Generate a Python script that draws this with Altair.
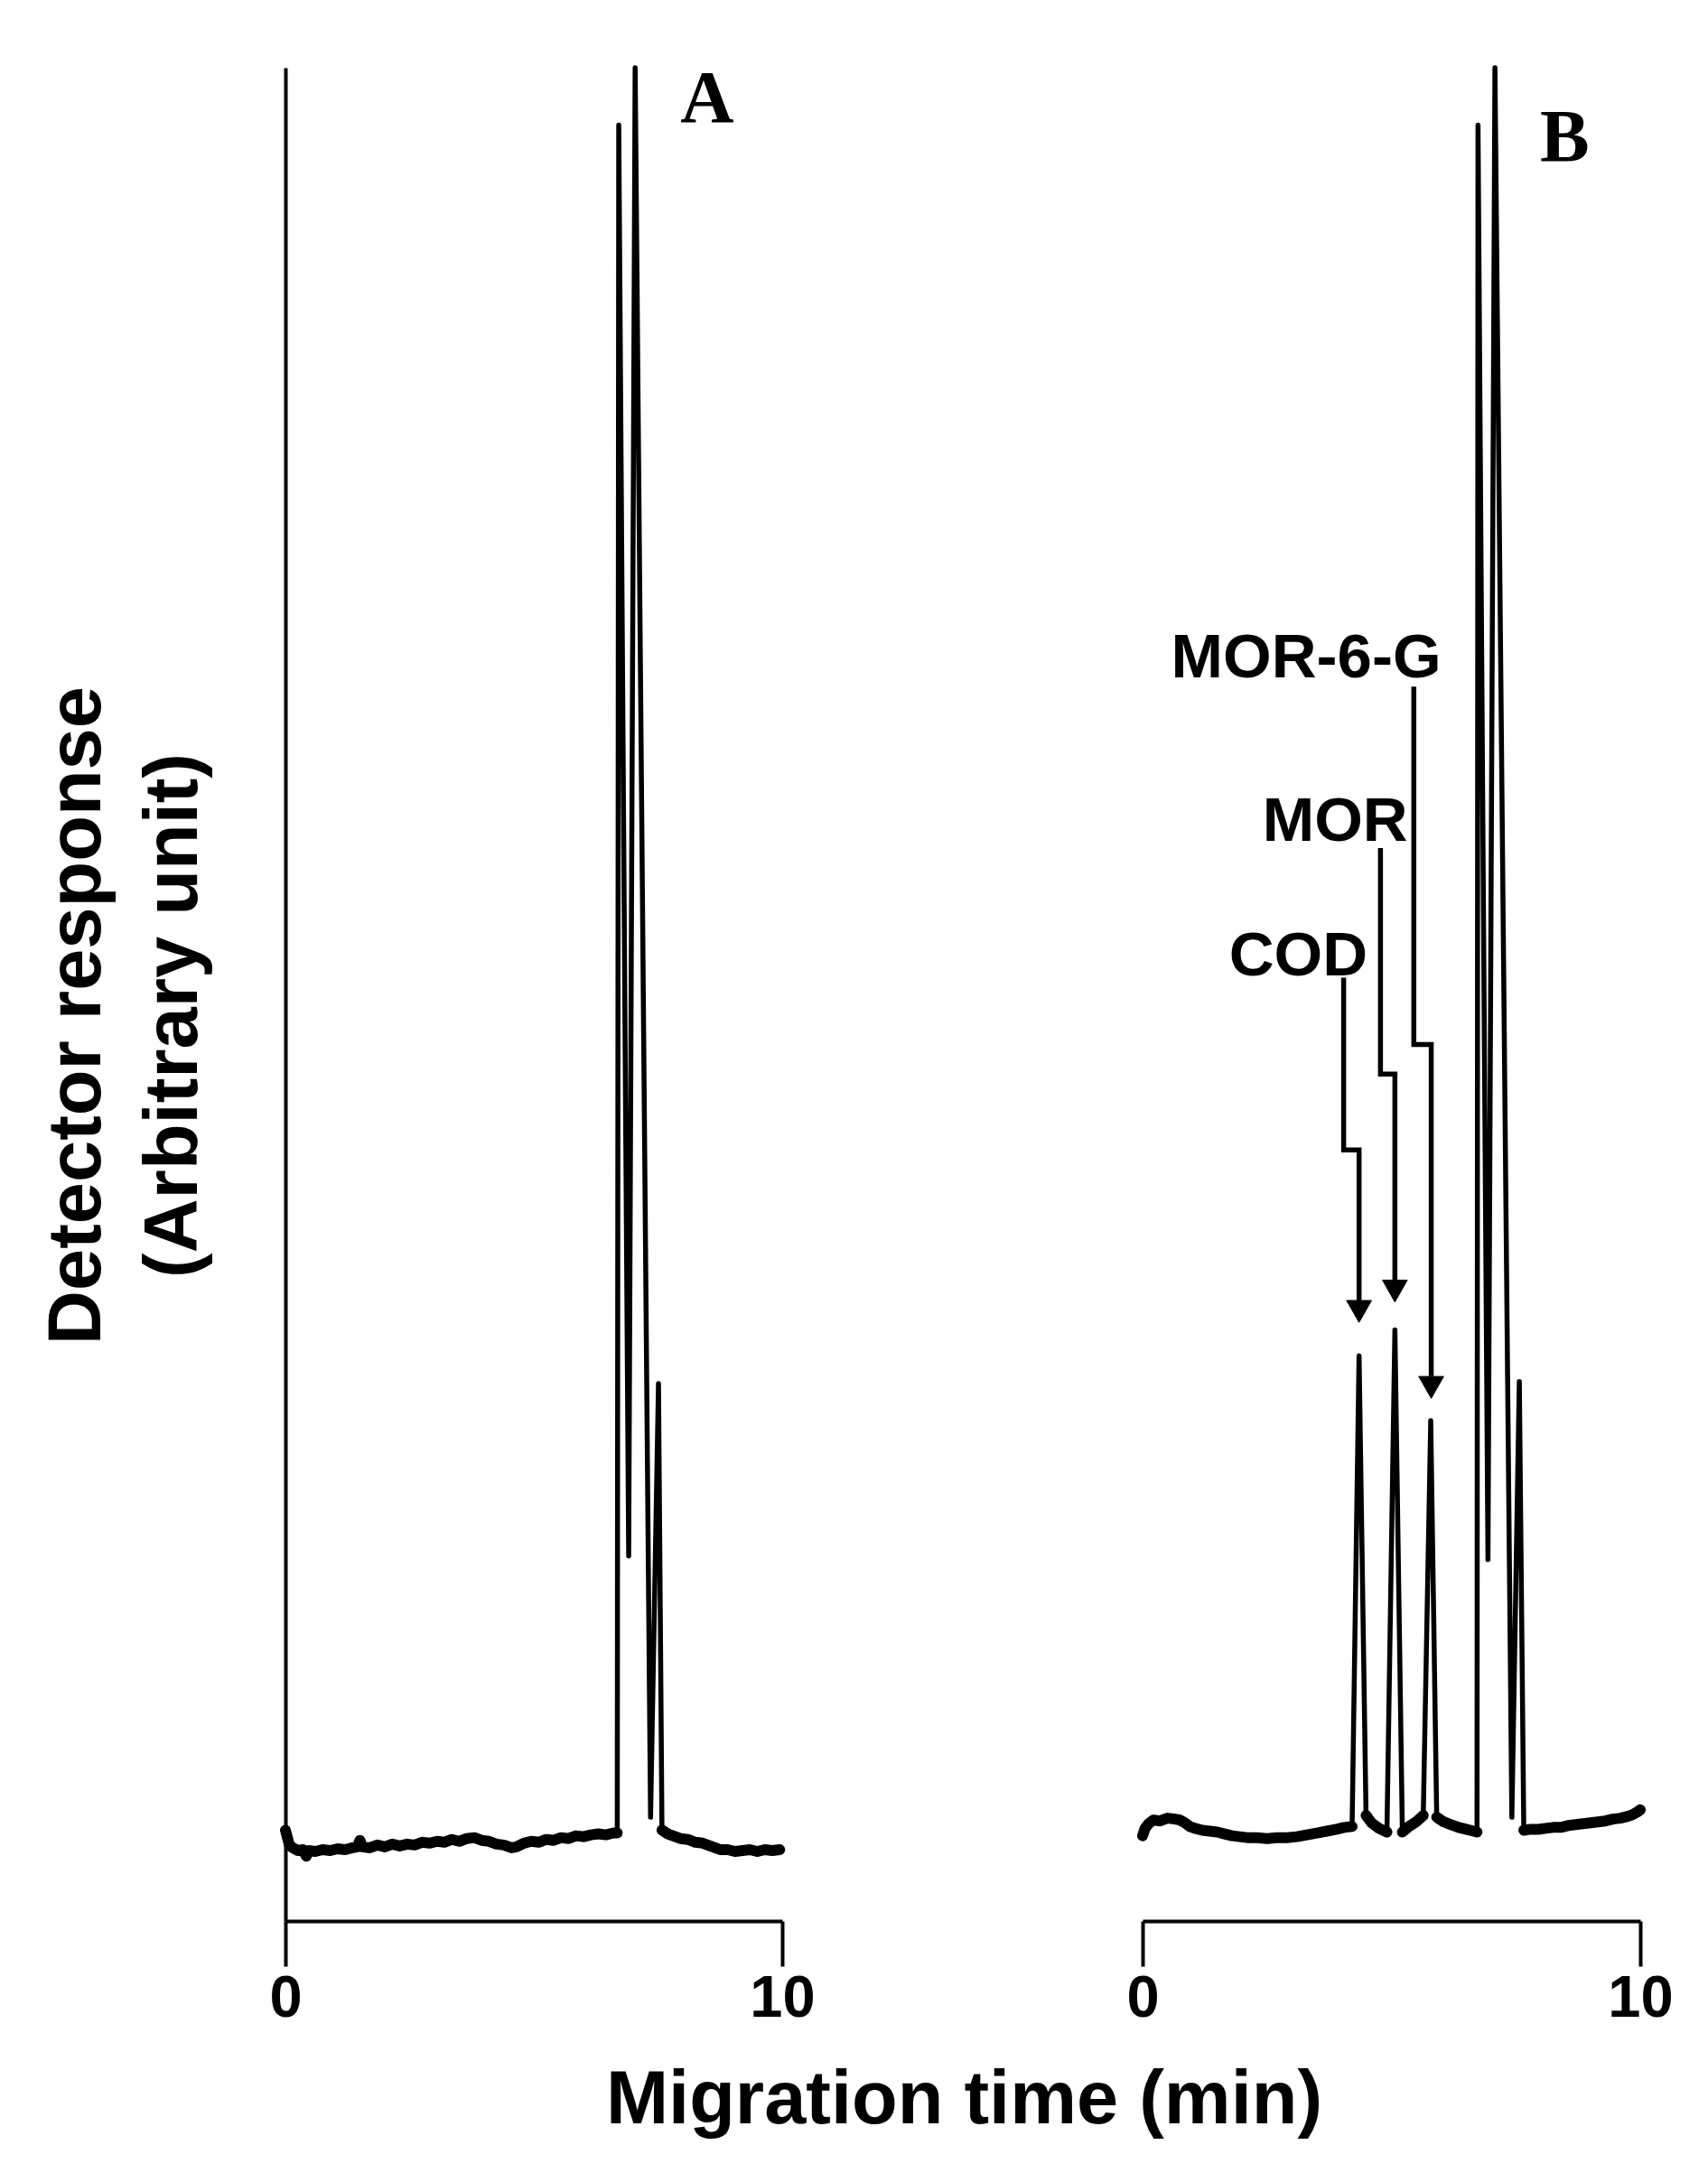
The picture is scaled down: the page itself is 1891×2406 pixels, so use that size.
import altair as alt
import pandas as pd

# ---------------- Panel A trace (time in min, detector response in arbitrary units) -------------
a_time = [0.00, 0.03, 0.08, 0.15, 0.25, 0.35, 0.42, 0.47, 0.60, 0.75, 0.90, 1.05, 1.20, 1.35,
          1.45, 1.50, 1.55, 1.70, 1.85, 2.00, 2.15, 2.30, 2.45, 2.60, 2.75, 2.90, 3.05, 3.20,
          3.35, 3.50, 3.65, 3.80, 3.95, 4.10, 4.25, 4.40, 4.55, 4.65, 4.80, 4.95, 5.10, 5.25,
          5.40, 5.55, 5.70, 5.85, 6.00, 6.15, 6.30, 6.45, 6.60, 6.68,
          6.71, 6.91, 7.04, 7.35, 7.51,
          7.58, 7.70, 7.80, 7.95, 8.10, 8.25, 8.40, 8.55, 8.65, 8.75, 8.90, 9.05, 9.20, 9.35,
          9.50, 9.65, 9.80, 9.95]
a_signal = [4.9, 4.6, 4.1, 3.95, 3.8, 3.85, 3.5, 3.8, 3.75, 3.85, 3.8, 3.9, 3.85, 3.95,
            4.0, 4.35, 4.0, 3.95, 4.1, 4.0, 4.15, 4.05, 4.15, 4.1, 4.25, 4.2, 4.3, 4.25,
            4.4, 4.3, 4.45, 4.5, 4.35, 4.3, 4.15, 4.1, 3.95, 4.0, 4.2, 4.3, 4.25, 4.4,
            4.35, 4.5, 4.45, 4.6, 4.55, 4.65, 4.7, 4.65, 4.75, 4.75,
            96.9, 19.7, 100.0, 5.6, 29.0,
            4.9, 4.7, 4.6, 4.45, 4.4, 4.25, 4.2, 4.05, 3.95, 3.85, 3.85, 3.75, 3.8, 3.85,
            3.75, 3.85, 3.8, 3.85]
a_kind = (["b"] * 52) + (["p"] * 5) + (["b"] * 18)

# ---------------- Panel B trace -------------
b_time = [0.00, 0.05, 0.12, 0.22, 0.35, 0.50, 0.65, 0.75, 0.85, 0.95, 1.05, 1.20, 1.35, 1.50,
          1.65, 1.80, 1.95, 2.10, 2.30, 2.50, 2.70, 2.90, 3.10, 3.30, 3.50, 3.70, 3.90, 4.05,
          4.21,
          4.35,
          4.49, 4.60, 4.75, 4.91,
          5.07,
          5.22, 5.35, 5.50, 5.64,
          5.79,
          5.91, 6.05, 6.20, 6.35, 6.50, 6.65, 6.72,
          6.74, 6.94, 7.08, 7.42, 7.57,
          7.66, 7.80, 7.95, 8.10, 8.25, 8.40, 8.55, 8.70, 8.85, 9.00, 9.15, 9.30, 9.45, 9.60,
          9.75, 9.85, 9.95, 10.0]
b_signal = [4.6, 5.0, 5.25, 5.45, 5.4, 5.55, 5.5, 5.45, 5.3, 5.1, 5.0, 4.9, 4.85, 4.8,
            4.7, 4.6, 4.55, 4.5, 4.5, 4.45, 4.5, 4.5, 4.55, 4.65, 4.75, 4.85, 4.95, 5.05,
            5.1,
            30.5,
            5.7, 5.3, 5.0, 4.8,
            31.9,
            4.8, 5.1, 5.35, 5.7,
            27.0,
            5.6, 5.35, 5.2, 5.05, 4.95, 4.85, 4.8,
            96.9, 19.5, 100.0, 5.6, 29.1,
            4.9, 4.95, 4.95, 5.0, 5.05, 5.05, 5.15, 5.2, 5.25, 5.3, 5.35, 5.4, 5.5, 5.55,
            5.65, 5.75, 5.9, 6.0]
b_kind = (["b"] * 29) + ["p"] + (["b"] * 4) + ["p"] + (["b"] * 4) + ["p"] + (["b"] * 7) \
         + (["p"] * 5) + (["b"] * 18)

# ---------------- Annotations (panel B) -------------
peak_names = ["COD", "MOR", "MOR-6-G"]
label_t = [4.52, 5.33, 6.00]          # right edge of each label
label_s = [51.0, 58.3, 67.1]          # text baseline
arrow_top_s = [50.9, 57.9, 66.6]
arrow_x1 = [4.04, 4.78, 5.45]
arrow_elbow_s = [41.6, 45.7, 47.3]
arrow_x2 = [4.35, 5.07, 5.80]
arrow_head_base_s = [33.4, 34.6, 29.4]
arrow_tip_s = [32.3, 33.4, 28.2]

panel_letters = ["A", "B"]
letter_t = [8.49, 8.48]
letter_s = [97.1, 95.0]

X_TICKS = [0, 10]


def trace_df(times, signals, kinds):
    rows = []
    seg = 0
    prev = None
    for i, (t, s, k) in enumerate(zip(times, signals, kinds)):
        if k == "b" and prev == "p":
            seg += 1
        rows.append(dict(i=i, t=t, s=s, kind=k, seg=seg))
        prev = k
    return pd.DataFrame(rows)


df_a = trace_df(a_time, a_signal, a_kind)
df_b = trace_df(b_time, b_signal, b_kind)

arrow_rows = []
for n, x1, top, el, x2, hb in zip(peak_names, arrow_x1, arrow_top_s, arrow_elbow_s,
                                   arrow_x2, arrow_head_base_s):
    arrow_rows += [dict(name=n, o=0, t=x1, s=top), dict(name=n, o=1, t=x1, s=el),
                   dict(name=n, o=2, t=x2, s=el), dict(name=n, o=3, t=x2, s=hb)]
df_arrows = pd.DataFrame(arrow_rows)
df_tips = pd.DataFrame(dict(name=peak_names, t=arrow_x2, s=arrow_tip_s))
df_labels = pd.DataFrame(dict(name=peak_names, t=label_t, s=label_s))
df_letters = pd.DataFrame(dict(name=panel_letters, t=letter_t, s=letter_s))

W_A, W_B, H = 550, 551, 2052
xscale = alt.Scale(domain=[0, 10], nice=False, zero=False)
yscale = alt.Scale(domain=[0, 100], nice=False, zero=False)

SANS = "Liberation Sans"


def x_axis(with_title):
    kw = dict(values=X_TICKS, grid=False, tickSize=50, tickWidth=4, domainWidth=4,
              labelFont=SANS, labelFontWeight="bold", labelFontSize=65,
              labelPadding=4, labelFlush=False, labelColor="black", tickColor="black",
              domainColor="black", format="d")
    if with_title:
        kw.update(title="Migration time (min)", titleFont=SANS, titleFontWeight="bold",
                  titleFontSize=83, titleX=751, titleY=223, titleAlign="center",
                  titleBaseline="alphabetic", titleColor="black")
    else:
        kw.update(title=None)
    return alt.Axis(**kw)


y_axis_a = alt.Axis(domain=True, ticks=False, labels=False, grid=False, domainWidth=4,
                    domainColor="black",
                    title=["Detector response", "(Arbitrary unit)"], titleFont=SANS,
                    titleFontWeight="bold", titleFontSize=83, titleLineHeight=107,
                    titleX=-206, titleY=1049, titleAngle=270, titleAlign="center",
                    titleBaseline="alphabetic", titleColor="black")


def trace_layers(df, xaxis, yaxis):
    base = alt.Chart(df)
    thin = base.mark_line(color="black", strokeWidth=5.5, strokeJoin="round",
                          strokeCap="round").encode(
        x=alt.X("t:Q", scale=xscale, axis=xaxis),
        y=alt.Y("s:Q", scale=yscale, axis=yaxis),
        order="i:Q")
    thick = base.transform_filter(alt.datum.kind == "b").mark_line(
        color="black", strokeWidth=12, strokeJoin="round", strokeCap="round").encode(
        x=alt.X("t:Q", scale=xscale),
        y=alt.Y("s:Q", scale=yscale),
        detail="seg:N", order="i:Q")
    return thin, thick


def letter_layer(letter):
    return alt.Chart(df_letters).transform_filter(alt.datum.name == letter).mark_text(
        font="Liberation Serif", fontWeight="bold", fontSize=82, align="center",
        baseline="alphabetic", color="black").encode(
        x=alt.X("t:Q", scale=xscale), y=alt.Y("s:Q", scale=yscale), text="name:N")


thin_a, thick_a = trace_layers(df_a, x_axis(True), y_axis_a)
panel_a = alt.layer(thin_a, thick_a, letter_layer("A")).properties(width=W_A, height=H)

thin_b, thick_b = trace_layers(df_b, x_axis(False), None)
arrows = alt.Chart(df_arrows).mark_line(color="black", strokeWidth=5.5,
                                        strokeJoin="miter", strokeCap="butt").encode(
    x=alt.X("t:Q", scale=xscale), y=alt.Y("s:Q", scale=yscale),
    detail="name:N", order="o:Q")
heads = alt.Chart(df_tips).mark_point(shape="M-1,-1.76L1,-1.76L0,0Z", filled=True,
                                      size=760, color="black", opacity=1,
                                      stroke="black", strokeWidth=1).encode(
    x=alt.X("t:Q", scale=xscale), y=alt.Y("s:Q", scale=yscale))
labels = alt.Chart(df_labels).mark_text(font=SANS, fontWeight="bold", fontSize=69,
                                        align="right", baseline="alphabetic",
                                        color="black").encode(
    x=alt.X("t:Q", scale=xscale), y=alt.Y("s:Q", scale=yscale), text="name:N")
panel_b = alt.layer(thin_b, thick_b, arrows, heads, labels, letter_layer("B")).properties(
    width=W_B, height=H)

chart = alt.hconcat(panel_a, panel_b, spacing=399, bounds="flush").properties(
    padding={"left": 36, "top": 60, "right": 20, "bottom": 20},
    background="white",
).configure_view(stroke=None)

chart.save("out.html", embed_options={"renderer": "svg", "actions": False})
